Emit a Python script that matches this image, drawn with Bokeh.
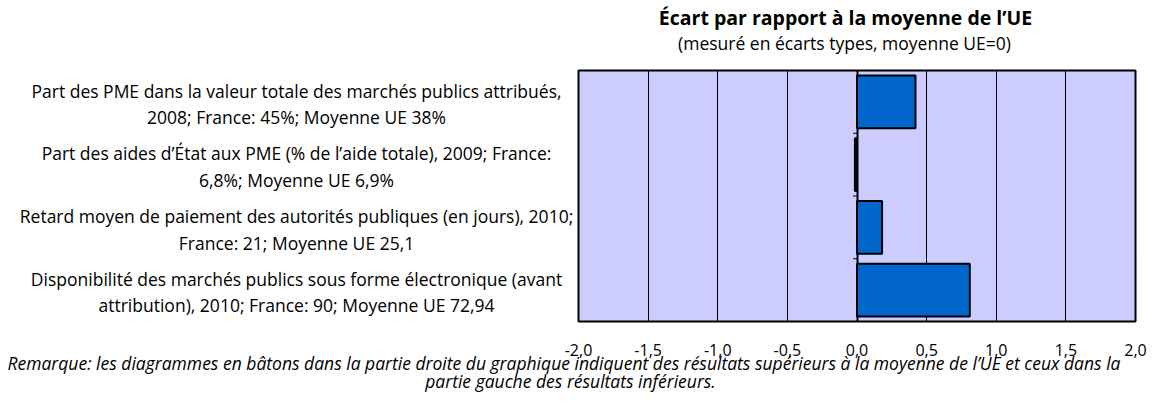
from bokeh.plotting import figure
from bokeh.models import Range1d, FixedTicker, BoxAnnotation, Grid, Label
from bokeh.core.properties import value
from bokeh.embed import file_html
from bokeh.resources import INLINE

categories = [
    "Part des PME dans la valeur totale des marchés publics attribués,\n2008; France: 45%; Moyenne UE 38%",
    "Part des aides d’État aux PME (% de l’aide totale), 2009; France:\n6,8%; Moyenne UE 6,9%",
    "Retard moyen de paiement des autorités publiques (en jours), 2010;\nFrance: 21; Moyenne UE 25,1",
    "Disponibilité des marchés publics sous forme électronique (avant\nattribution), 2010; France: 90; Moyenne UE 72,94",
]
values = [0.42, -0.015, 0.18, 0.81]
x_ticks = [-2.0, -1.5, -1.0, -0.5, 0.0, 0.5, 1.0, 1.5, 2.0]
x_tick_labels = ["-2,0", "-1,5", "-1,0", "-0,5", "0,0", "0,5", "1,0", "1,5", "2,0"]
title_text = "Écart par rapport à la moyenne de l’UE"
subtitle_text = "(mesuré en écarts types, moyenne UE=0)"
note_line1 = ("Remarque: les diagrammes en bâtons dans la partie droite du graphique indiquent "
              "des résultats supérieurs à la moyenne de l’UE et ceux dans la")
note_line2 = "partie gauche des résultats inférieurs."

FONT = "Open Sans"

# ---- layout, in pixels inside the figure ----
W, H = 1152, 394
PLOT_L, PLOT_R = 578, 1135      # pixel x of -2 and +2
PLOT_T, PLOT_B = 70, 321        # pixel y of the plot area top / bottom
n = len(categories)
ppu = (PLOT_R - PLOT_L) / (x_ticks[-1] - x_ticks[0])     # px per x unit
band = (PLOT_B - PLOT_T) / n                              # px per category

x_start = x_ticks[0] - PLOT_L / ppu
x_end = x_start + W / ppu
y_top = -0.5 - PLOT_T / band          # category index grows downwards
y_bottom = y_top + H / band


def xd(px):
    return x_start + px / ppu


def yd(py):
    return y_top + py / band


idx = list(range(n))

p = figure(width=W, height=H,
           x_range=Range1d(x_start, x_end), y_range=Range1d(y_bottom, y_top),
           output_backend="svg", toolbar_location=None,
           min_border_left=0, min_border_right=0, min_border_top=0, min_border_bottom=0)
p.background_fill_color = "white"
p.border_fill_color = "white"
p.outline_line_color = None
p.xaxis.visible = False
p.yaxis.visible = False
p.ygrid.grid_line_color = None

# plot area with black border
p.add_layout(BoxAnnotation(left=x_ticks[0], right=x_ticks[-1], top=-0.5, bottom=n - 0.5,
                           fill_color="#CCCCFF", fill_alpha=1.0,
                           line_color="black", line_width=2, line_alpha=1.0, level="image"))

p.xgrid.ticker = FixedTicker(ticks=x_ticks)
p.xgrid.grid_line_color = "black"
p.xgrid.grid_line_width = 1
p.xgrid.cross_bounds = (-0.5, n - 0.5)

# vertical axis at zero
p.add_layout(Grid(dimension=0, ticker=FixedTicker(ticks=[0]), grid_line_color="black",
                  grid_line_width=2, cross_bounds=(-0.5, n - 0.5)), "center")
bounds = [i + 0.5 for i in idx]
p.segment(x0=[-4 / ppu] * n, x1=[0] * n, y0=bounds, y1=bounds,
          line_color="black", line_width=1)

p.hbar(y=idx, left=0, right=values, height=0.84,
       fill_color="#0066CC", line_color="black", line_width=2)

# category labels (lines centred)
p.text(x=[xd(296)] * n, y=[i + 2 / band for i in idx], text=categories,
       text_font=value(FONT), text_font_size="17.5px", text_color="black",
       text_align="center", text_baseline="middle", text_line_height=1.1)

# x tick labels
p.text(x=x_ticks, y=[yd(349)] * len(x_ticks), text=x_tick_labels,
       text_font=value(FONT), text_font_size="16px", text_color="black",
       text_align="center", text_baseline="middle")

# titles
p.add_layout(Label(x=xd(845), y=yd(17), text=title_text,
                   text_font=FONT, text_font_size="19.5px", text_font_style="bold",
                   text_align="center", text_baseline="middle", text_color="black"))
p.add_layout(Label(x=xd(844), y=yd(42), text=subtitle_text,
                   text_font=FONT, text_font_size="17.5px",
                   text_align="center", text_baseline="middle", text_color="black"))

# footnote
p.add_layout(Label(x=xd(1120), y=yd(362), text=note_line1,
                   text_font=FONT, text_font_size="17.5px", text_font_style="italic",
                   text_align="right", text_baseline="middle", text_color="black"))
p.add_layout(Label(x=xd(570), y=yd(380), text=note_line2,
                   text_font=FONT, text_font_size="17.5px", text_font_style="italic",
                   text_align="center", text_baseline="middle", text_color="black"))

open("out.html", "w").write(file_html(p, INLINE))
